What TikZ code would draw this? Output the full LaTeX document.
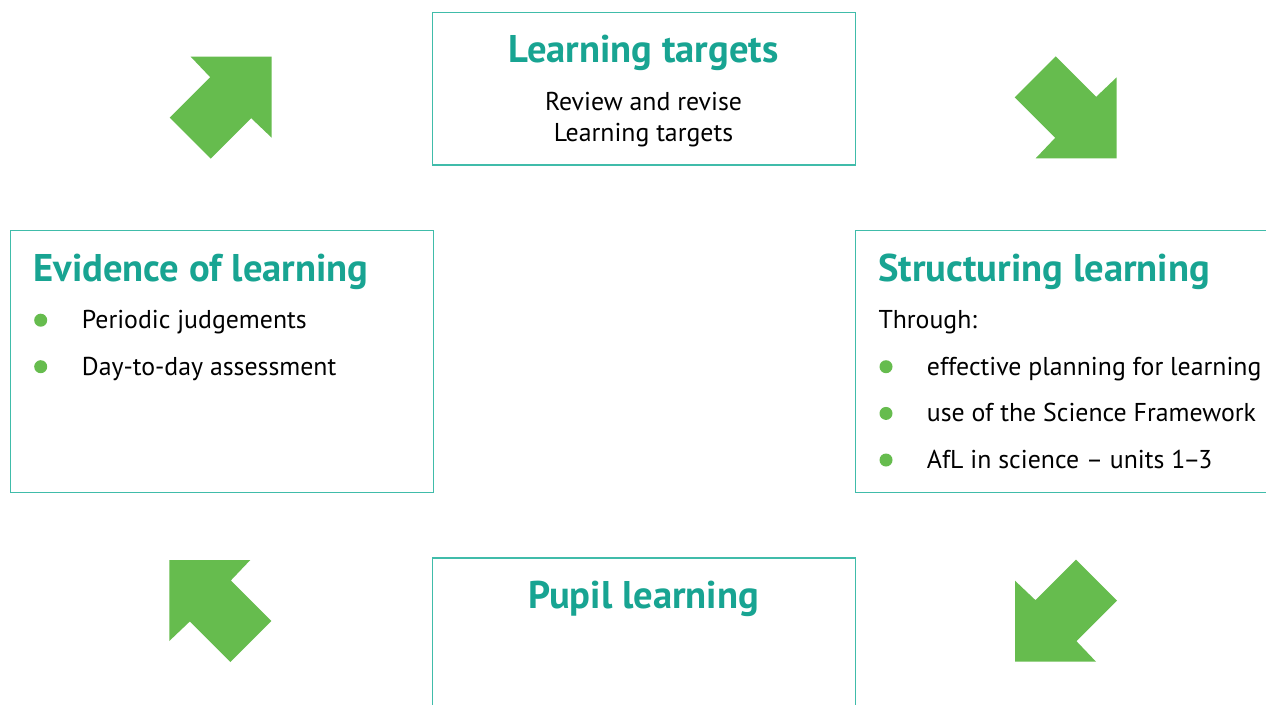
\documentclass[tikz,border=0pt]{standalone}
\usepackage{fontspec}
\setmainfont{PT Sans}
\definecolor{tealtxt}{RGB}{24,164,146}
\definecolor{tealline}{RGB}{64,188,170}
\definecolor{arrowgreen}{RGB}{102,188,78}
\tikzset{
  box/.style={draw=tealline, line width=1.3pt, fill=none, inner sep=0pt, anchor=north west},
  title/.style={text=tealtxt, font=\fontsize{38.6}{42}\selectfont\bfseries, inner sep=0pt},
  body/.style={text=black, font=\fontsize{25.8}{29}\selectfont, inner sep=0pt},
  dot/.style={circle, fill=arrowgreen, minimum size=13pt, inner sep=0pt},
  bigarrow/.style={fill=arrowgreen}
}
\newcommand{\arrowshape}{(-81,0) -- (0,0) -- (0,81) -- (-20.5,61.5) -- (-61,102) -- (-102,61) -- (-61.5,20.5) -- cycle}
\begin{document}
\begin{tikzpicture}[x=1pt,y=-1pt]
\useasboundingbox (0,0) rectangle (1266,704);
\clip (0,0) rectangle (1266,704);
\fill[white] (0,0) rectangle (1266,704);

% boxes
\node[box, minimum width=422.5pt, minimum height=152.5pt] (topbox) at (432,11.7) {};
\node[box, minimum width=423pt, minimum height=261.5pt] (leftbox) at (9.5,230) {};
\node[box, minimum width=430pt, minimum height=261.5pt] (rightbox) at (855,230) {};
\node[box, minimum width=422.5pt, minimum height=170pt] (bottombox) at (432,557.3) {};

% top box text
\node[title, anchor=base] (t1) at (643.5,62.3) {Learning targets};
\node[body, anchor=base] (t2) at (643.5,110) {Review and revise};
\node[body, anchor=base] (t3) at (643.5,141.7) {Learning targets};

% left box text
\node[title, anchor=base west] (l1) at (33.3,281.7) {Evidence of learning};
\node[dot] (ld1) at (40.7,320.2) {};
\node[body, anchor=base west] (l2) at (81.7,328.3) {Periodic judgements};
\node[dot] (ld2) at (40.7,366.7) {};
\node[body, anchor=base west] (l3) at (81.7,375) {Day-to-day assessment};

% right box text
\node[title, anchor=base west] (r1) at (878.3,281.7) {Structuring learning};
\node[body, anchor=base west] (r2) at (878.3,328.3) {Through:};
\node[dot] (rd1) at (886,366.7) {};
\node[body, anchor=base west] (r3) at (926.7,375) {effective planning for learning};
\node[dot] (rd2) at (886,413.4) {};
\node[body, anchor=base west] (r4) at (926.7,421.7) {use of the Science Framework};
\node[dot] (rd3) at (886,460) {};
\node[body, anchor=base west] (r5) at (926.7,468.3) {AfL in science -- units 1\kern-2pt--\kern-2pt3};

% bottom box text
\node[title, anchor=base] (b1) at (643.5,608.3) {Pupil learning};

% arrows
\begin{scope}[shift={(271.7,56.7)}]
  \fill[bigarrow] \arrowshape;
\end{scope}
\begin{scope}[shift={(1116.7,158.3)}, x={(0,-1pt)}, y={(-1pt,0)}]
  \fill[bigarrow] \arrowshape;
\end{scope}
\begin{scope}[shift={(1015,661.7)}, x={(-1pt,0)}, y={(0,1pt)}]
  \fill[bigarrow] \arrowshape;
\end{scope}
\begin{scope}[shift={(169.3,560)}, x={(0,1pt)}, y={(1pt,0)}]
  \fill[bigarrow] \arrowshape;
\end{scope}
\end{tikzpicture}
\end{document}
